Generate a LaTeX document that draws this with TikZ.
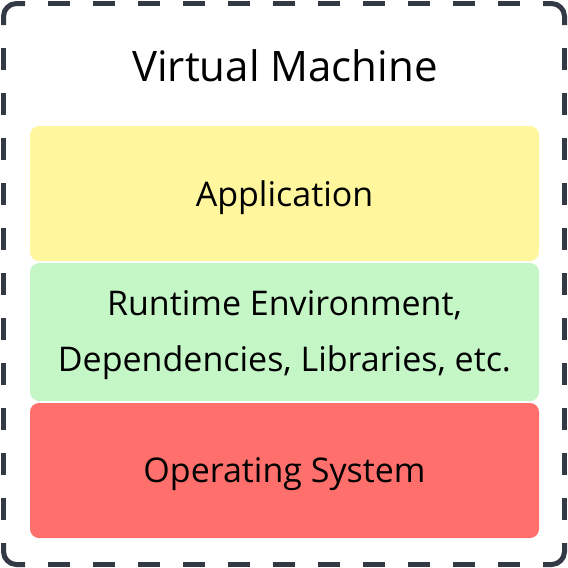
\documentclass[tikz,border=0pt]{standalone}
\usepackage{fontspec}
\setmainfont{Open Sans}
\definecolor{framec}{HTML}{343A43}
\definecolor{appc}{HTML}{FFF69E}
\definecolor{envc}{HTML}{C4F6C6}
\definecolor{osc}{HTML}{FF6F6B}
\tikzset{
  framecorner/.style={draw=framec, line width=5pt, rounded corners=13pt},
  frameside/.style={draw=framec, line width=5pt, dash pattern=on 22pt off 23pt, dash phase=22pt},
  lbl/.style={font=\fontsize{34}{40}\selectfont, text=black, align=center, anchor=base},
}
\begin{document}
\begin{tikzpicture}[x=1pt,y=-1pt]
\useasboundingbox (0,0) rectangle (568,568);
% frame corners
\path[framecorner] (3.5,25) -- (3.5,3.5) -- (25,3.5);
\path[framecorner] (543,3.5) -- (564.5,3.5) -- (564.5,25);
\path[framecorner] (564.5,543) -- (564.5,564.5) -- (543,564.5);
\path[framecorner] (25,564.5) -- (3.5,564.5) -- (3.5,543);
% frame sides
\path[frameside] (25,3.5) -- (543,3.5);
\path[frameside] (564.5,25) -- (564.5,543);
\path[frameside] (543,564.5) -- (25,564.5);
\path[frameside] (3.5,543) -- (3.5,25);
\node[font=\fontsize{42}{48}\selectfont, anchor=base] (title) at (285,81) {Virtual Machine};
\fill[appc, rounded corners=9pt] (30,126) rectangle (539,261);
\fill[envc, rounded corners=9pt] (30,263) rectangle (539,401);
\fill[osc, rounded corners=9pt] (30,403) rectangle (539,538);
\node[lbl] (app) at (284.5,206) {Application};
\node[lbl] (env1) at (284.5,315) {Runtime Environment,};
\node[lbl] (env2) at (284.5,371.5) {Dependencies, Libraries, etc.};
\node[lbl] (os) at (284.5,482) {Operating System};
\end{tikzpicture}
\end{document}
